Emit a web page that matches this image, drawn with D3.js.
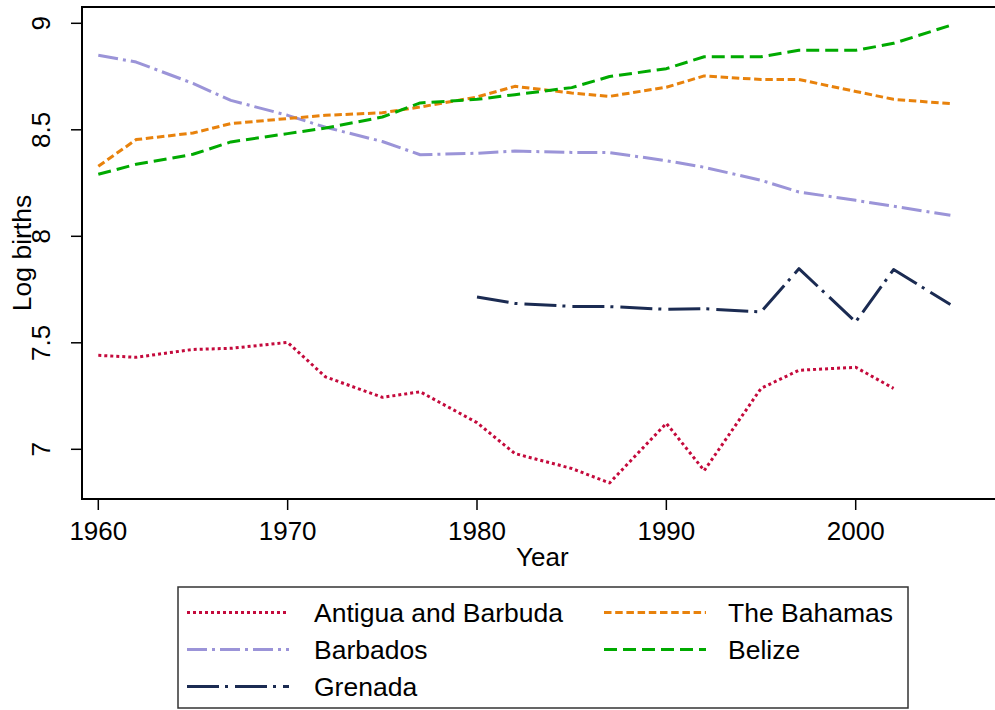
<!DOCTYPE html>
<html>
<head>
<meta charset="utf-8">
<script src="https://cdn.jsdelivr.net/npm/d3@7"></script>
<style>
  body { margin: 0; background: #fff; }
  text { font-family: "Liberation Sans", Arial, sans-serif; fill: #000; }
</style>
</head>
<body>
<div id="chart"></div>
<script>
// values
const antiguaYears = [1960, 1962, 1965, 1967, 1970, 1972, 1975, 1977, 1980, 1982, 1985, 1987, 1990, 1992, 1995, 1997, 2000, 2002];
const antiguaValues = [7.441, 7.432, 7.469, 7.474, 7.502, 7.34, 7.244, 7.27, 7.125, 6.98, 6.91, 6.842, 7.122, 6.90, 7.286, 7.371, 7.385, 7.286];

const fullYears = [1960, 1962, 1965, 1967, 1970, 1972, 1975, 1977, 1980, 1982, 1985, 1987, 1990, 1992, 1995, 1997, 2000, 2002, 2005];
const bahamasValues = [8.329, 8.454, 8.485, 8.529, 8.553, 8.568, 8.58, 8.607, 8.654, 8.704, 8.673, 8.657, 8.70, 8.753, 8.736, 8.736, 8.68, 8.643, 8.623];
const barbadosValues = [8.850, 8.818, 8.718, 8.638, 8.568, 8.512, 8.445, 8.383, 8.39, 8.40, 8.394, 8.393, 8.355, 8.324, 8.263, 8.208, 8.169, 8.141, 8.099];
const belizeValues = [8.291, 8.338, 8.385, 8.443, 8.482, 8.508, 8.56, 8.626, 8.643, 8.665, 8.698, 8.75, 8.787, 8.843, 8.843, 8.873, 8.873, 8.906, 8.99];

const grenadaYears = [1980, 1982, 1985, 1987, 1990, 1992, 1995, 1997, 2000, 2002, 2005];
const grenadaValues = [7.715, 7.685, 7.671, 7.67, 7.657, 7.66, 7.645, 7.848, 7.598, 7.844, 7.68];

const xTicks = [1960, 1970, 1980, 1990, 2000];
const yTicks = [7, 7.5, 8, 8.5, 9];

// legend order (two columns, filled row by row)
const legendItems = ["Antigua and Barbuda", "The Bahamas", "Barbados", "Belize", "Grenada"];

// styling per series
const styles = {
  "Antigua and Barbuda": { color: "#c40a3c", dash: "3,3" },
  "The Bahamas": { color: "#e8820c", dash: "7.5,3.7" },
  "Barbados": { color: "#9b94d8", dash: "20,5,3,5" },
  "Belize": { color: "#00aa00", dash: "13,6" },
  "Grenada": { color: "#1b2b52", dash: "32,6,3,7" }
};

const series = [
  { name: "Barbados", years: fullYears, values: barbadosValues },
  { name: "The Bahamas", years: fullYears, values: bahamasValues },
  { name: "Belize", years: fullYears, values: belizeValues },
  { name: "Grenada", years: grenadaYears, values: grenadaValues },
  { name: "Antigua and Barbuda", years: antiguaYears, values: antiguaValues }
];

const width = 995, height = 710;
const plot = { left: 82, top: 7, right: 997, bottom: 499 };

const x = d3.scaleLinear().domain([1960, 2000]).range([98.3, 855.7]);
const y = d3.scaleLinear().domain([7, 9]).range([449.3, 23.3]);

const svg = d3.select("#chart")
  .append("svg")
  .attr("width", width)
  .attr("height", height);

svg.append("rect")
  .attr("width", width)
  .attr("height", height)
  .attr("fill", "#fff");

// lines
const line = d3.line()
  .x(d => x(d[0]))
  .y(d => y(d[1]));

svg.append("g")
  .selectAll("path")
  .data(series)
  .join("path")
  .attr("d", s => line(d3.zip(s.years, s.values)))
  .attr("fill", "none")
  .attr("stroke", s => styles[s.name].color)
  .attr("stroke-width", 3)
  .attr("stroke-dasharray", s => styles[s.name].dash)
  .attr("stroke-linejoin", "round");

// frame
svg.append("rect")
  .attr("x", plot.left)
  .attr("y", plot.top)
  .attr("width", plot.right - plot.left)
  .attr("height", plot.bottom - plot.top)
  .attr("fill", "none")
  .attr("stroke", "#000")
  .attr("stroke-width", 2);

// x axis
const xAxis = svg.append("g")
  .attr("transform", `translate(0,${plot.bottom})`);
xAxis.selectAll("line")
  .data(xTicks)
  .join("line")
  .attr("x1", d => x(d)).attr("x2", d => x(d))
  .attr("y1", 0).attr("y2", 11)
  .attr("stroke", "#000")
  .attr("stroke-width", 1.5);
xAxis.selectAll("text")
  .data(xTicks)
  .join("text")
  .attr("x", d => x(d))
  .attr("y", 41)
  .attr("text-anchor", "middle")
  .attr("font-size", 26)
  .text(d => d);

svg.append("text")
  .attr("x", (x(1960) + x(2005)) / 2 + 18)
  .attr("y", 566)
  .attr("text-anchor", "middle")
  .attr("font-size", 26)
  .text("Year");

// y axis
const yAxis = svg.append("g")
  .attr("transform", `translate(${plot.left},0)`);
yAxis.selectAll("line")
  .data(yTicks)
  .join("line")
  .attr("x1", 0).attr("x2", -11)
  .attr("y1", d => y(d)).attr("y2", d => y(d))
  .attr("stroke", "#000")
  .attr("stroke-width", 1.5);
yAxis.selectAll("text")
  .data(yTicks)
  .join("text")
  .attr("transform", d => `translate(-32,${y(d)}) rotate(-90)`)
  .attr("text-anchor", "middle")
  .attr("font-size", 26)
  .text(d => d);

svg.append("text")
  .attr("transform", `translate(31,${(plot.top + plot.bottom) / 2}) rotate(-90)`)
  .attr("text-anchor", "middle")
  .attr("font-size", 26.5)
  .text("Log births");

// legend
const legend = svg.append("g");
legend.append("rect")
  .attr("x", 178)
  .attr("y", 587)
  .attr("width", 730)
  .attr("height", 121)
  .attr("fill", "#fff")
  .attr("stroke", "#333")
  .attr("stroke-width", 1.5);

const colX = [187, 604];
const rowY = [612.5, 649.5, 686.5];

const item = legend.selectAll("g.item")
  .data(legendItems)
  .join("g")
  .attr("class", "item")
  .attr("transform", (d, i) => `translate(${colX[i % 2]},${rowY[Math.floor(i / 2)]})`);

item.append("line")
  .attr("x1", 0).attr("x2", 102)
  .attr("stroke", d => styles[d].color)
  .attr("stroke-width", 3)
  .attr("stroke-dasharray", d => styles[d].dash);

item.append("text")
  .attr("x", (d, i) => i % 2 == 0 ? 127 : 124)
  .attr("y", 9)
  .attr("font-size", 26.5)
  .text(d => d);
</script>
</body>
</html>
